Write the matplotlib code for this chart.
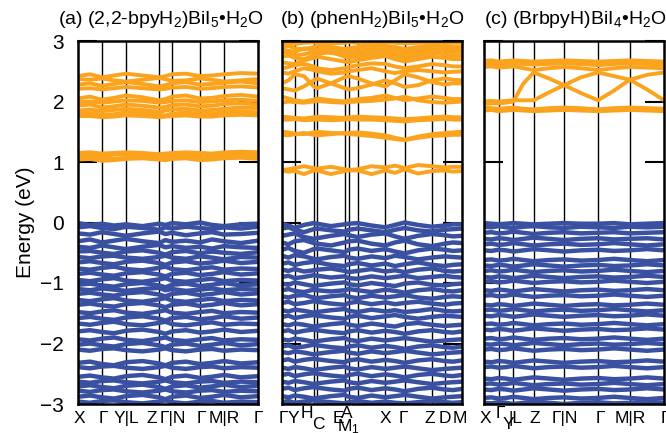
import matplotlib
matplotlib.use("Agg")
import matplotlib.pyplot as plt

plt.rcParams["font.family"] = ["Liberation Sans", "DejaVu Sans"]
plt.rcParams["mathtext.fontset"] = "custom"
plt.rcParams["mathtext.rm"] = "Liberation Sans"
plt.rcParams["mathtext.default"] = "regular"

ORANGE = "#FBA31D"
BLUE = "#3A51A2"

TITLES = ["(a) (2,2-bpyH$_2$)BiI$_5$•H$_2$O",
          "(b) (phenH$_2$)BiI$_5$•H$_2$O",
          "(c) (BrbpyH)BiI$_4$•H$_2$O"]

# high-symmetry points along each k-path
NODES_A = [0, 0.24, 0.48, 0.81, 0.94, 1.22, 1.46, 1.80]
NODES_B = [0, 0.127, 0.317, 0.350, 0.627, 0.667, 0.757, 1.034, 1.227, 1.50, 1.627, 1.80]
NODES_C = [0, 0.147, 0.294, 0.497, 0.80, 1.14, 1.457, 1.80]

# tick labels under each panel (text, k, level: 0 normal, 1 raised, -1 lowered)
LABELS_A = ["X", "Γ", "Y|L", "Z", "Γ|N", "Γ", "M|R", "Γ"]
LABEL_K_A = [0.01, 0.25, 0.48, 0.74, 0.95, 1.23, 1.46, 1.80]
LABEL_LV_A = [0, 0, 0, 0, 0, 0, 0, 0]
LABELS_B = ["Γ", "Y", "H", "C", "E", "A", "M$_1$", "X", "Γ", "Z", "D", "M"]
LABEL_K_B = [0.01, 0.11, 0.25, 0.36, 0.56, 0.65, 0.66, 1.03, 1.21, 1.48, 1.63, 1.78]
LABEL_LV_B = [0, 0, 1, -1, 0, 1, -1, 0, 0, 0, 0, 0]
LABELS_C = ["X", "Γ", "Y", "|L", "Z", "Γ|N", "Γ", "M|R", "Γ"]
LABEL_K_C = [0.01, 0.16, 0.24, 0.31, 0.51, 0.81, 1.16, 1.46, 1.81]
LABEL_LV_C = [0, 1, -1, 0, 0, 0, 0, 0, 0]

# sampling points of the bands along the path
KS_A = [0, 0.12, 0.24, 0.36, 0.48, 0.645, 0.81, 0.875, 0.94, 1.08, 1.22, 1.34, 1.46, 1.63, 1.80]
KS_B = [0, 0.065, 0.127, 0.22, 0.317, 0.35, 0.49, 0.627, 0.667, 0.757, 0.895, 1.034,
        1.13, 1.227, 1.36, 1.50, 1.627, 1.71, 1.80]
KS_C = [0, 0.073, 0.147, 0.22, 0.294, 0.395, 0.497, 0.65, 0.80, 0.97, 1.14, 1.30, 1.457, 1.63, 1.80]

COND_A = [
    [1.15, 1.16, 1.14, 1.15, 1.16, 1.15, 1.13, 1.14, 1.15, 1.16, 1.15, 1.14, 1.16, 1.17, 1.16],
    [1.12, 1.11, 1.10, 1.12, 1.13, 1.12, 1.11, 1.10, 1.12, 1.13, 1.12, 1.11, 1.12, 1.13, 1.14],
    [1.07, 1.08, 1.06, 1.05, 1.07, 1.08, 1.06, 1.07, 1.09, 1.08, 1.06, 1.07, 1.09, 1.10, 1.09],
    [1.04, 1.05, 1.02, 1.03, 1.05, 1.06, 1.04, 1.03, 1.05, 1.06, 1.03, 1.04, 1.06, 1.07, 1.05],
    [1.93, 1.95, 1.90, 1.92, 1.95, 1.93, 1.90, 1.91, 1.94, 1.95, 1.92, 1.93, 1.96, 1.97, 1.95],
    [1.85, 1.87, 1.84, 1.86, 1.88, 1.86, 1.83, 1.85, 1.87, 1.88, 1.85, 1.86, 1.88, 1.90, 1.89],
    [1.80, 1.81, 1.78, 1.79, 1.82, 1.81, 1.78, 1.77, 1.80, 1.82, 1.79, 1.80, 1.82, 1.84, 1.82],
    [1.76, 1.76, 1.74, 1.75, 1.77, 1.76, 1.74, 1.75, 1.76, 1.77, 1.75, 1.75, 1.77, 1.78, 1.77],
    [2.05, 2.08, 2.03, 2.06, 2.10, 2.07, 2.02, 2.04, 2.08, 2.10, 2.05, 2.06, 2.09, 2.11, 2.08],
    [1.99, 2.00, 1.98, 2.00, 2.02, 2.01, 1.98, 1.99, 2.01, 2.02, 1.99, 2.00, 2.02, 2.03, 2.01],
    [2.42, 2.45, 2.40, 2.43, 2.46, 2.43, 2.40, 2.42, 2.45, 2.46, 2.42, 2.43, 2.45, 2.47, 2.46],
    [2.37, 2.36, 2.38, 2.35, 2.33, 2.36, 2.39, 2.37, 2.34, 2.35, 2.38, 2.36, 2.33, 2.35, 2.37],
    [2.28, 2.30, 2.26, 2.29, 2.32, 2.29, 2.25, 2.27, 2.30, 2.32, 2.28, 2.29, 2.31, 2.33, 2.30],
    [2.21, 2.22, 2.20, 2.22, 2.24, 2.22, 2.20, 2.21, 2.23, 2.24, 2.21, 2.22, 2.24, 2.25, 2.23],
]

VAL_A = [
    [-0.01, -0.04, -0.02, -0.05, -0.03, -0.06, -0.02, -0.04, -0.01, -0.03, 0.00, -0.04, -0.06, -0.03, -0.02],
    [-0.08, -0.06, -0.09, -0.11, -0.07, -0.09, -0.12, -0.08, -0.10, -0.07, -0.09, -0.11, -0.08, -0.10, -0.07],
    [-0.18, -0.20, -0.16, -0.19, -0.22, -0.18, -0.15, -0.19, -0.17, -0.21, -0.18, -0.16, -0.20, -0.19, -0.17],
    [-0.31, -0.28, -0.33, -0.30, -0.27, -0.31, -0.34, -0.29, -0.32, -0.30, -0.33, -0.28, -0.31, -0.34, -0.30],
    [-0.40, -0.42, -0.38, -0.41, -0.44, -0.40, -0.37, -0.41, -0.39, -0.42, -0.40, -0.43, -0.39, -0.41, -0.42],
    [-0.48, -0.47, -0.50, -0.52, -0.48, -0.46, -0.50, -0.53, -0.49, -0.47, -0.51, -0.48, -0.50, -0.52, -0.49],
    [-0.57, -0.59, -0.56, -0.55, -0.58, -0.60, -0.57, -0.55, -0.58, -0.60, -0.56, -0.58, -0.61, -0.57, -0.58],
    [-0.66, -0.64, -0.67, -0.69, -0.65, -0.63, -0.67, -0.70, -0.66, -0.64, -0.68, -0.66, -0.63, -0.67, -0.65],
    [-0.76, -0.78, -0.75, -0.73, -0.77, -0.79, -0.75, -0.73, -0.77, -0.79, -0.76, -0.74, -0.78, -0.76, -0.77],
    [-0.85, -0.83, -0.86, -0.88, -0.84, -0.82, -0.86, -0.89, -0.85, -0.83, -0.87, -0.85, -0.82, -0.86, -0.84],
    [-0.95, -0.97, -0.94, -0.92, -0.96, -0.98, -0.94, -0.92, -0.96, -0.98, -0.95, -0.93, -0.97, -0.95, -0.96],
    [-1.03, -1.01, -1.04, -1.06, -1.02, -1.00, -1.04, -1.07, -1.03, -1.01, -1.05, -1.03, -1.00, -1.04, -1.02],
    [-1.10, -1.12, -1.09, -1.11, -1.13, -1.10, -1.08, -1.12, -1.10, -1.13, -1.11, -1.09, -1.12, -1.10, -1.11],
    [-1.18, -1.16, -1.19, -1.21, -1.17, -1.15, -1.19, -1.22, -1.18, -1.16, -1.20, -1.18, -1.15, -1.19, -1.17],
    [-1.28, -1.30, -1.27, -1.25, -1.29, -1.31, -1.27, -1.25, -1.29, -1.31, -1.28, -1.26, -1.30, -1.28, -1.29],
    [-1.36, -1.34, -1.37, -1.39, -1.35, -1.33, -1.37, -1.40, -1.36, -1.34, -1.38, -1.36, -1.33, -1.37, -1.35],
    [-1.48, -1.50, -1.47, -1.45, -1.49, -1.51, -1.47, -1.45, -1.49, -1.51, -1.48, -1.46, -1.50, -1.48, -1.49],
    [-1.58, -1.56, -1.59, -1.61, -1.57, -1.55, -1.59, -1.62, -1.58, -1.56, -1.60, -1.58, -1.55, -1.59, -1.57],
    [-1.67, -1.69, -1.66, -1.64, -1.68, -1.70, -1.66, -1.64, -1.68, -1.70, -1.67, -1.65, -1.69, -1.67, -1.68],
    [-1.80, -1.78, -1.81, -1.83, -1.79, -1.77, -1.81, -1.84, -1.80, -1.78, -1.82, -1.80, -1.77, -1.81, -1.79],
    [-1.93, -1.95, -1.92, -1.90, -1.94, -1.96, -1.92, -1.90, -1.94, -1.96, -1.93, -1.91, -1.95, -1.93, -1.94],
    [-2.02, -2.00, -2.03, -2.05, -2.01, -1.99, -2.03, -2.06, -2.02, -2.00, -2.04, -2.02, -1.99, -2.03, -2.01],
    [-2.10, -2.12, -2.09, -2.08, -2.11, -2.13, -2.10, -2.08, -2.11, -2.13, -2.10, -2.09, -2.12, -2.10, -2.11],
    [-2.32, -2.30, -2.34, -2.36, -2.31, -2.29, -2.33, -2.36, -2.32, -2.30, -2.34, -2.32, -2.29, -2.33, -2.31],
    [-2.39, -2.41, -2.38, -2.37, -2.40, -2.42, -2.39, -2.37, -2.40, -2.42, -2.39, -2.38, -2.41, -2.39, -2.40],
    [-2.55, -2.53, -2.56, -2.58, -2.54, -2.52, -2.56, -2.59, -2.55, -2.53, -2.57, -2.55, -2.52, -2.56, -2.54],
    [-2.63, -2.65, -2.62, -2.61, -2.64, -2.66, -2.63, -2.61, -2.64, -2.66, -2.63, -2.62, -2.65, -2.63, -2.64],
    [-2.71, -2.69, -2.72, -2.74, -2.70, -2.68, -2.72, -2.75, -2.71, -2.69, -2.73, -2.71, -2.68, -2.72, -2.70],
    [-2.78, -2.80, -2.77, -2.76, -2.79, -2.81, -2.78, -2.76, -2.79, -2.81, -2.78, -2.77, -2.80, -2.78, -2.79],
    [-2.88, -2.86, -2.89, -2.91, -2.87, -2.85, -2.89, -2.92, -2.88, -2.86, -2.90, -2.88, -2.85, -2.89, -2.87],
    [-2.96, -2.98, -2.95, -2.94, -2.97, -2.99, -2.96, -2.94, -2.97, -2.99, -2.96, -2.95, -2.98, -2.96, -2.97],
]

COND_B = [
    [0.87, 0.88, 0.90, 0.93, 0.90, 0.89, 0.92, 0.88, 0.87, 0.88, 0.93, 0.91, 0.94, 0.90, 0.95, 0.93, 0.91, 0.92, 0.92],
    [0.86, 0.84, 0.85, 0.80, 0.86, 0.86, 0.80, 0.85, 0.86, 0.86, 0.80, 0.86, 0.82, 0.88, 0.81, 0.85, 0.86, 0.84, 0.85],
    [1.50, 1.49, 1.47, 1.46, 1.49, 1.50, 1.48, 1.47, 1.48, 1.49, 1.47, 1.44, 1.40, 1.37, 1.42, 1.46, 1.48, 1.49, 1.50],
    [1.45, 1.44, 1.46, 1.48, 1.45, 1.44, 1.46, 1.48, 1.46, 1.45, 1.43, 1.40, 1.38, 1.36, 1.40, 1.43, 1.44, 1.45, 1.45],
    [1.75, 1.74, 1.73, 1.72, 1.74, 1.75, 1.74, 1.73, 1.74, 1.75, 1.74, 1.73, 1.72, 1.71, 1.72, 1.74, 1.75, 1.74, 1.74],
    [1.70, 1.70, 1.71, 1.69, 1.70, 1.70, 1.69, 1.70, 1.71, 1.70, 1.70, 1.69, 1.68, 1.67, 1.69, 1.70, 1.71, 1.70, 1.70],
    [2.08, 2.05, 2.02, 2.00, 2.03, 2.05, 2.02, 2.00, 2.02, 2.04, 2.06, 2.10, 2.06, 2.02, 2.05, 2.08, 2.06, 2.04, 2.04],
    [1.98, 2.00, 1.99, 1.98, 2.00, 2.01, 1.99, 1.98, 1.99, 2.00, 2.01, 2.03, 2.05, 2.08, 2.02, 1.99, 1.98, 1.99, 2.00],
    [2.30, 2.35, 2.45, 2.42, 2.25, 2.22, 2.30, 2.40, 2.42, 2.38, 2.30, 2.25, 2.35, 2.45, 2.40, 2.32, 2.28, 2.30, 2.30],
    [2.22, 2.20, 2.18, 2.25, 2.35, 2.38, 2.30, 2.22, 2.20, 2.22, 2.28, 2.35, 2.30, 2.24, 2.27, 2.35, 2.38, 2.36, 2.35],
    [2.48, 2.46, 2.50, 2.55, 2.52, 2.50, 2.46, 2.48, 2.50, 2.52, 2.55, 2.50, 2.47, 2.50, 2.52, 2.50, 2.48, 2.49, 2.50],
    [2.55, 2.57, 2.60, 2.62, 2.58, 2.55, 2.52, 2.55, 2.57, 2.60, 2.63, 2.62, 2.58, 2.55, 2.58, 2.62, 2.60, 2.58, 2.58],
    [2.65, 2.63, 2.62, 2.68, 2.72, 2.74, 2.70, 2.66, 2.65, 2.68, 2.72, 2.75, 2.70, 2.66, 2.70, 2.74, 2.72, 2.70, 2.70],
    [2.74, 2.76, 2.72, 2.70, 2.76, 2.78, 2.82, 2.74, 2.72, 2.74, 2.78, 2.80, 2.76, 2.72, 2.76, 2.80, 2.78, 2.76, 2.76],
    [2.82, 2.80, 2.76, 2.78, 2.82, 2.84, 2.80, 2.78, 2.76, 2.78, 2.82, 2.85, 2.80, 2.78, 2.82, 2.85, 2.84, 2.82, 2.82],
    [2.86, 2.84, 2.82, 2.88, 2.86, 2.85, 2.86, 2.84, 2.82, 2.84, 2.87, 2.88, 2.86, 2.84, 2.86, 2.88, 2.87, 2.86, 2.86],
    [2.90, 2.92, 2.88, 2.86, 2.90, 2.92, 2.90, 2.87, 2.88, 2.90, 2.93, 2.92, 2.90, 2.87, 2.90, 2.93, 2.92, 2.90, 2.90],
    [2.97, 2.96, 2.95, 2.97, 2.98, 2.97, 2.96, 2.97, 2.98, 2.97, 2.96, 2.98, 2.97, 2.96, 2.97, 2.98, 2.97, 2.97, 2.97],
]

VAL_B = [
    [-0.02, -0.05, -0.09, -0.04, -0.01, -0.02, -0.06, -0.03, -0.02, -0.01, -0.05, -0.08, -0.04, 0.00, -0.04, -0.07, -0.05, -0.03, -0.03],
    [-0.10, -0.08, -0.12, -0.16, -0.11, -0.10, -0.13, -0.15, -0.12, -0.10, -0.13, -0.16, -0.12, -0.09, -0.13, -0.15, -0.12, -0.11, -0.10],
    [-0.22, -0.20, -0.18, -0.24, -0.27, -0.26, -0.22, -0.19, -0.21, -0.24, -0.20, -0.18, -0.23, -0.27, -0.22, -0.19, -0.21, -0.23, -0.22],
    [-0.33, -0.36, -0.31, -0.29, -0.34, -0.35, -0.38, -0.33, -0.31, -0.30, -0.35, -0.38, -0.33, -0.30, -0.36, -0.39, -0.35, -0.33, -0.34],
    [-0.45, -0.42, -0.47, -0.50, -0.44, -0.43, -0.46, -0.49, -0.45, -0.43, -0.47, -0.44, -0.48, -0.51, -0.46, -0.43, -0.45, -0.47, -0.46],
    [-0.55, -0.58, -0.54, -0.56, -0.60, -0.61, -0.57, -0.55, -0.58, -0.60, -0.56, -0.59, -0.55, -0.57, -0.61, -0.58, -0.56, -0.57, -0.58],
    [-0.68, -0.66, -0.70, -0.67, -0.65, -0.66, -0.70, -0.72, -0.69, -0.67, -0.71, -0.68, -0.72, -0.69, -0.66, -0.70, -0.72, -0.70, -0.69],
    [-0.78, -0.80, -0.77, -0.81, -0.79, -0.78, -0.76, -0.80, -0.82, -0.80, -0.77, -0.81, -0.79, -0.82, -0.78, -0.76, -0.80, -0.81, -0.80],
    [-0.90, -0.88, -0.92, -0.90, -0.87, -0.88, -0.91, -0.89, -0.92, -0.93, -0.89, -0.92, -0.90, -0.88, -0.92, -0.90, -0.88, -0.90, -0.91],
    [-1.01, -1.03, -0.99, -1.02, -1.05, -1.04, -1.01, -0.99, -1.02, -1.04, -1.00, -1.03, -1.05, -1.01, -0.99, -1.03, -1.04, -1.02, -1.01],
    [-1.12, -1.10, -1.13, -1.15, -1.11, -1.12, -1.14, -1.12, -1.10, -1.12, -1.15, -1.11, -1.13, -1.16, -1.12, -1.10, -1.13, -1.14, -1.12],
    [-1.22, -1.24, -1.21, -1.20, -1.24, -1.25, -1.22, -1.20, -1.23, -1.25, -1.21, -1.24, -1.22, -1.20, -1.24, -1.26, -1.23, -1.22, -1.23],
    [-1.33, -1.31, -1.35, -1.33, -1.30, -1.31, -1.34, -1.36, -1.33, -1.31, -1.35, -1.32, -1.35, -1.33, -1.31, -1.34, -1.36, -1.34, -1.33],
    [-1.45, -1.47, -1.44, -1.46, -1.49, -1.48, -1.45, -1.43, -1.46, -1.48, -1.44, -1.47, -1.45, -1.48, -1.46, -1.43, -1.46, -1.47, -1.46],
    [-1.56, -1.54, -1.58, -1.55, -1.53, -1.54, -1.57, -1.59, -1.56, -1.54, -1.58, -1.55, -1.53, -1.56, -1.59, -1.56, -1.54, -1.55, -1.56],
    [-1.68, -1.70, -1.67, -1.69, -1.72, -1.71, -1.68, -1.66, -1.69, -1.71, -1.67, -1.70, -1.72, -1.68, -1.66, -1.69, -1.71, -1.70, -1.69],
    [-1.80, -1.78, -1.82, -1.79, -1.77, -1.78, -1.81, -1.83, -1.80, -1.78, -1.82, -1.79, -1.81, -1.84, -1.80, -1.78, -1.81, -1.82, -1.80],
    [-1.93, -1.95, -1.92, -1.94, -1.97, -1.96, -1.93, -1.91, -1.94, -1.96, -1.92, -1.95, -1.93, -1.91, -1.94, -1.97, -1.95, -1.94, -1.93],
    [-2.05, -2.03, -2.07, -2.05, -2.02, -2.03, -2.06, -2.08, -2.05, -2.03, -2.07, -2.04, -2.06, -2.09, -2.05, -2.03, -2.06, -2.07, -2.05],
    [-2.14, -2.16, -2.13, -2.15, -2.18, -2.17, -2.14, -2.12, -2.15, -2.17, -2.13, -2.16, -2.14, -2.12, -2.15, -2.18, -2.16, -2.15, -2.14],
    [-2.28, -2.26, -2.30, -2.27, -2.25, -2.26, -2.29, -2.31, -2.28, -2.26, -2.30, -2.27, -2.29, -2.32, -2.28, -2.26, -2.29, -2.30, -2.28],
    [-2.40, -2.42, -2.39, -2.41, -2.44, -2.43, -2.40, -2.38, -2.41, -2.43, -2.39, -2.42, -2.40, -2.38, -2.41, -2.44, -2.42, -2.41, -2.40],
    [-2.52, -2.50, -2.54, -2.51, -2.49, -2.50, -2.53, -2.55, -2.52, -2.50, -2.54, -2.51, -2.53, -2.56, -2.52, -2.50, -2.53, -2.54, -2.52],
    [-2.63, -2.65, -2.62, -2.64, -2.67, -2.66, -2.63, -2.61, -2.64, -2.66, -2.62, -2.65, -2.63, -2.61, -2.64, -2.67, -2.65, -2.64, -2.63],
    [-2.75, -2.73, -2.77, -2.74, -2.72, -2.73, -2.76, -2.78, -2.75, -2.73, -2.77, -2.74, -2.76, -2.79, -2.75, -2.73, -2.76, -2.77, -2.75],
    [-2.87, -2.89, -2.86, -2.88, -2.91, -2.90, -2.87, -2.85, -2.88, -2.90, -2.86, -2.89, -2.87, -2.85, -2.88, -2.91, -2.89, -2.88, -2.87],
    [-2.97, -2.95, -2.98, -2.96, -2.94, -2.95, -2.97, -2.99, -2.97, -2.95, -2.98, -2.96, -2.98, -2.99, -2.97, -2.95, -2.97, -2.98, -2.97],
]

COND_C = [
    [2.67, 2.68, 2.66, 2.67, 2.68, 2.67, 2.66, 2.67, 2.68, 2.67, 2.66, 2.67, 2.68, 2.67, 2.66],
    [2.62, 2.63, 2.61, 2.62, 2.63, 2.62, 2.61, 2.62, 2.63, 2.62, 2.60, 2.62, 2.63, 2.62, 2.61],
    [2.57, 2.58, 2.56, 2.57, 2.58, 2.55, 2.52, 2.55, 2.57, 2.55, 2.52, 2.55, 2.57, 2.56, 2.55],
    [2.00, 2.01, 2.00, 2.01, 2.02, 2.02, 2.02, 2.15, 2.27, 2.40, 2.48, 2.42, 2.36, 2.20, 2.02],
    [1.96, 1.97, 1.97, 1.98, 2.00, 2.30, 2.48, 2.38, 2.27, 2.14, 2.02, 2.18, 2.36, 2.44, 2.48],
    [1.90, 1.89, 1.88, 1.89, 1.90, 1.88, 1.87, 1.89, 1.90, 1.89, 1.87, 1.89, 1.90, 1.89, 1.88],
    [1.85, 1.86, 1.84, 1.85, 1.86, 1.85, 1.84, 1.85, 1.86, 1.85, 1.84, 1.85, 1.86, 1.85, 1.84],
]

VAL_C = [
    [-0.01, -0.02, -0.03, -0.02, -0.01, -0.02, -0.03, -0.02, -0.01, -0.02, -0.02, -0.01, -0.03, -0.02, -0.01],
    [-0.07, -0.08, -0.06, -0.08, -0.09, -0.07, -0.06, -0.08, -0.09, -0.07, -0.08, -0.09, -0.07, -0.08, -0.07],
    [-0.17, -0.16, -0.18, -0.17, -0.15, -0.17, -0.19, -0.17, -0.16, -0.18, -0.17, -0.16, -0.18, -0.17, -0.16],
    [-0.27, -0.28, -0.26, -0.27, -0.29, -0.27, -0.25, -0.27, -0.29, -0.27, -0.26, -0.28, -0.27, -0.26, -0.28],
    [-0.36, -0.35, -0.37, -0.36, -0.34, -0.36, -0.38, -0.36, -0.35, -0.37, -0.36, -0.34, -0.36, -0.38, -0.36],
    [-0.46, -0.47, -0.45, -0.46, -0.48, -0.46, -0.44, -0.46, -0.48, -0.46, -0.45, -0.47, -0.46, -0.44, -0.46],
    [-0.62, -0.61, -0.63, -0.62, -0.60, -0.62, -0.64, -0.62, -0.61, -0.63, -0.62, -0.60, -0.62, -0.64, -0.62],
    [-0.71, -0.72, -0.70, -0.71, -0.73, -0.71, -0.69, -0.71, -0.73, -0.71, -0.70, -0.72, -0.71, -0.69, -0.71],
    [-0.80, -0.79, -0.81, -0.80, -0.78, -0.80, -0.82, -0.80, -0.79, -0.81, -0.80, -0.78, -0.80, -0.82, -0.80],
    [-0.90, -0.91, -0.89, -0.90, -0.92, -0.90, -0.88, -0.90, -0.92, -0.90, -0.89, -0.91, -0.90, -0.88, -0.90],
    [-0.98, -0.97, -0.99, -0.98, -0.96, -0.98, -1.00, -0.98, -0.97, -0.99, -0.98, -0.96, -0.98, -1.00, -0.98],
    [-1.12, -1.13, -1.11, -1.12, -1.14, -1.12, -1.10, -1.12, -1.14, -1.12, -1.11, -1.13, -1.12, -1.10, -1.12],
    [-1.21, -1.20, -1.22, -1.21, -1.19, -1.21, -1.23, -1.21, -1.20, -1.22, -1.21, -1.19, -1.21, -1.23, -1.21],
    [-1.36, -1.37, -1.35, -1.36, -1.38, -1.36, -1.34, -1.36, -1.38, -1.36, -1.35, -1.37, -1.36, -1.34, -1.36],
    [-1.45, -1.44, -1.46, -1.45, -1.43, -1.45, -1.47, -1.45, -1.44, -1.46, -1.45, -1.43, -1.45, -1.47, -1.45],
    [-1.54, -1.55, -1.53, -1.54, -1.56, -1.54, -1.52, -1.54, -1.56, -1.54, -1.53, -1.55, -1.54, -1.52, -1.54],
    [-1.68, -1.67, -1.69, -1.68, -1.66, -1.68, -1.70, -1.68, -1.67, -1.69, -1.68, -1.66, -1.68, -1.70, -1.68],
    [-1.77, -1.78, -1.76, -1.77, -1.79, -1.77, -1.75, -1.77, -1.79, -1.77, -1.76, -1.78, -1.77, -1.75, -1.77],
    [-1.92, -1.91, -1.93, -1.92, -1.90, -1.92, -1.94, -1.92, -1.91, -1.93, -1.92, -1.90, -1.92, -1.94, -1.92],
    [-2.01, -2.02, -2.00, -2.01, -2.03, -2.01, -1.99, -2.01, -2.03, -2.01, -2.00, -2.02, -2.01, -1.99, -2.01],
    [-2.10, -2.09, -2.11, -2.10, -2.08, -2.10, -2.12, -2.10, -2.09, -2.11, -2.10, -2.08, -2.10, -2.12, -2.10],
    [-2.30, -2.31, -2.29, -2.30, -2.32, -2.30, -2.28, -2.30, -2.32, -2.30, -2.29, -2.31, -2.30, -2.28, -2.30],
    [-2.39, -2.38, -2.40, -2.39, -2.37, -2.39, -2.41, -2.39, -2.38, -2.40, -2.39, -2.37, -2.39, -2.41, -2.39],
    [-2.58, -2.59, -2.57, -2.58, -2.60, -2.58, -2.56, -2.58, -2.60, -2.58, -2.57, -2.59, -2.58, -2.56, -2.58],
    [-2.67, -2.66, -2.68, -2.67, -2.65, -2.67, -2.69, -2.67, -2.66, -2.68, -2.67, -2.65, -2.67, -2.69, -2.67],
    [-2.76, -2.77, -2.75, -2.76, -2.78, -2.76, -2.74, -2.76, -2.78, -2.76, -2.75, -2.77, -2.76, -2.74, -2.76],
    [-2.90, -2.89, -2.91, -2.90, -2.88, -2.90, -2.92, -2.90, -2.89, -2.91, -2.90, -2.88, -2.90, -2.92, -2.90],
    [-2.98, -2.99, -2.97, -2.98, -3.00, -2.98, -2.96, -2.98, -3.00, -2.98, -2.97, -2.99, -2.98, -2.96, -2.98],
]

LEVEL_Y = {0: -0.020, 1: -0.006, -1: -0.036}


def plot(ax, ks, nodes, cond, val, labels, label_k, label_lv, title, title_x):
    for k in nodes[1:-1]:
        ax.axvline(k, color="black", lw=1.0, zorder=1)
    for band in val:
        ax.plot(ks, band, color=BLUE, lw=3.2, solid_capstyle="butt", zorder=2)
    for band in cond:
        ax.plot(ks, band, color=ORANGE, lw=2.8, solid_capstyle="butt", zorder=2)

    ax.set_xlim(nodes[0], nodes[-1])
    ax.set_ylim(-3, 3)
    ax.set_yticks([-3, -2, -1, 0, 1, 2, 3])
    ax.set_xticks([])
    ax.tick_params(axis="y", direction="in", left=True, right=True,
                   length=13.5, width=1.5, labelsize=15, pad=10)
    for s in ax.spines.values():
        s.set_linewidth(1.8)

    for lab, k, lv in zip(labels, label_k, label_lv):
        ax.text(k, LEVEL_Y[lv], lab, transform=ax.get_xaxis_transform(),
                ha="center", va="top", fontsize=12.5)
    ax.text(title_x, 1.03, title, transform=ax.transAxes, ha="left",
            va="bottom", fontsize=14)


def main():
    fig = plt.figure(figsize=(6.66, 4.33), dpi=100)
    w, h, b = 180 / 666, 363 / 433, 29 / 433
    ax_a = fig.add_axes([78 / 666, b, w, h])
    ax_b = fig.add_axes([282 / 666, b, w, h])
    ax_c = fig.add_axes([484 / 666, b, w, h])

    plot(ax_a, KS_A, NODES_A, COND_A, VAL_A, LABELS_A, LABEL_K_A, LABEL_LV_A, TITLES[0], -0.11)
    plot(ax_b, KS_B, NODES_B, COND_B, VAL_B, LABELS_B, LABEL_K_B, LABEL_LV_B, TITLES[1], -0.01)
    plot(ax_c, KS_C, NODES_C, COND_C, VAL_C, LABELS_C, LABEL_K_C, LABEL_LV_C, TITLES[2], 0.0)

    ax_a.set_ylabel("Energy (eV)", fontsize=15, labelpad=4)
    ax_b.tick_params(labelleft=False)
    ax_c.tick_params(labelleft=False)

    fig.savefig("out.png", dpi=100)


if __name__ == "__main__":
    main()
